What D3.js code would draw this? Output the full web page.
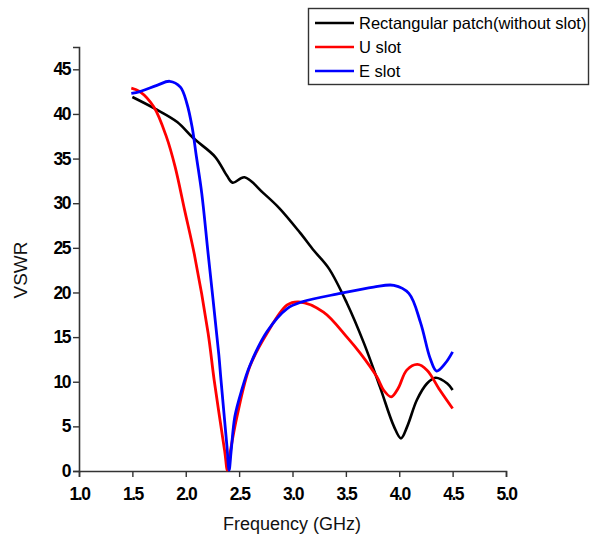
<!DOCTYPE html>
<html>
<head>
<meta charset="utf-8">
<script src="https://cdn.jsdelivr.net/npm/d3@7"></script>
<style>
  body { margin: 0; background: #fff; }
  svg { display: block; }
</style>
</head>
<body>
<div id="chart"></div>
<script>
// values
var seriesNames = ["Rectangular patch(without slot)", "U slot", "E slot"];
var seriesColours = ["#000000", "#ff0000", "#0000ff"];

var rectFreq = [1.5, 1.71, 1.92, 2.07, 2.275, 2.385, 2.44, 2.55, 2.73, 2.88, 3.07, 3.2, 3.34, 3.51, 3.67, 3.82, 3.95, 4.016, 4.075, 4.165, 4.26, 4.34, 4.45, 4.5];
var rectVswr = [41.9, 40.6, 39.1, 37.3, 35.2, 33.1, 32.3, 32.9, 31.1, 29.4, 26.7, 24.7, 22.7, 18.8, 14.3, 9.4, 5.0, 3.66, 5.0, 7.95, 9.8, 10.45, 9.8, 9.07];

var uFreq = [1.49, 1.57, 1.70, 1.82, 1.9, 1.99, 2.08, 2.21, 2.266, 2.365, 2.39, 2.415, 2.48, 2.60, 2.76, 2.95, 3.06, 3.29, 3.51, 3.634, 3.79, 3.853, 3.925, 3.99, 4.07, 4.17, 4.26, 4.38, 4.5];
var uVswr = [42.9, 42.5, 40.8, 37.4, 34.1, 29.2, 24.3, 15.4, 10.2, 2.2, 0.1, 2.0, 6.1, 11.7, 15.4, 18.6, 18.95, 17.8, 15.0, 13.2, 10.55, 9.07, 8.3, 9.26, 11.3, 11.94, 11.3, 9.07, 7.0];

var eFreq = [1.49, 1.57, 1.73, 1.85, 1.95, 2.01, 2.06, 2.10, 2.15, 2.21, 2.31, 2.33, 2.385, 2.406, 2.425, 2.46, 2.525, 2.60, 2.76, 2.95, 3.09, 3.45, 3.76, 3.95, 4.09, 4.20, 4.29, 4.35, 4.43, 4.5];
var eVswr = [42.3, 42.5, 43.2, 43.66, 43.0, 41.2, 38.5, 35.2, 31.1, 24.3, 13.0, 10.2, 2.9, 0.1, 2.2, 6.1, 9.1, 11.8, 15.6, 18.2, 18.95, 19.9, 20.6, 20.8, 19.9, 16.6, 12.6, 11.2, 12.05, 13.35];

var xTicks = [1.0, 1.5, 2.0, 2.5, 3.0, 3.5, 4.0, 4.5, 5.0];
var yTicks = [0, 5, 10, 15, 20, 25, 30, 35, 40, 45];

var width = 590, height = 543;
var margin = {top: 47, right: 84, bottom: 72, left: 79};
var widthG = width - margin.left - margin.right;
var heightG = height - margin.top - margin.bottom;

var svg = d3.select("#chart").append("svg")
  .attr("width", width)
  .attr("height", height);

var g = svg.append("g")
  .attr("transform", "translate(" + margin.left + "," + margin.top + ")");

var x = d3.scaleLinear().domain([1.0, 5.0]).range([0, 427]);
var y = d3.scaleLinear().domain([0, 47.5]).range([heightG, 0]);

//axes
var xAxis = d3.axisBottom(x).tickValues(xTicks).tickFormat(d3.format(".1f")).tickSize(6).tickPadding(6);
var yAxis = d3.axisLeft(y).tickValues(yTicks).tickFormat(d3.format("d")).tickSize(6).tickPadding(3);

var gx = g.append("g")
  .attr("transform", "translate(0," + heightG + ")")
  .call(xAxis);
var gy = g.append("g").call(yAxis);

[gx, gy].forEach(function(ax) {
  ax.select(".domain").attr("stroke", "#333").attr("stroke-width", 1.6);
  ax.selectAll(".tick line").attr("stroke", "#333").attr("stroke-width", 1.4);
  ax.selectAll(".tick text")
    .style("font-family", "'Liberation Sans', Arial, sans-serif")
    .style("font-size", "17.5px")
    .style("font-weight", "bold")
    .style("letter-spacing", "-1.5px")
    .attr("fill", "#000");
});
gx.selectAll(".tick text").attr("dy", "0.95em");

//lines
var line = d3.line()
  .x(function(d) { return x(d[0]); })
  .y(function(d) { return y(Math.max(0, d[1])); })
  .curve(d3.curveCatmullRom.alpha(0.5));

var series = [
  d3.zip(rectFreq, rectVswr),
  d3.zip(uFreq, uVswr),
  d3.zip(eFreq, eVswr)
];

// black first, then red, then blue on top
series.forEach(function(s, i) {
  g.append("path")
    .datum(s)
    .attr("fill", "none")
    .attr("stroke", seriesColours[i])
    .attr("stroke-width", i === 0 ? 2.6 : 2.8)
    .attr("stroke-linejoin", "round")
    .attr("d", line);
});

//axis titles
svg.append("text")
  .attr("x", 292)
  .attr("y", 530)
  .attr("text-anchor", "middle")
  .style("font-family", "'Liberation Sans', Arial, sans-serif")
  .style("font-size", "18px")
  .attr("fill", "#111")
  .text("Frequency (GHz)");

svg.append("text")
  .attr("transform", "translate(27,270) rotate(-90)")
  .attr("text-anchor", "middle")
  .style("font-family", "'Liberation Sans', Arial, sans-serif")
  .style("font-size", "19px")
  .attr("fill", "#111")
  .text("VSWR");

//legend
var legend = svg.append("g");
legend.append("rect")
  .attr("x", 308.5)
  .attr("y", 8.5)
  .attr("width", 280)
  .attr("height", 76)
  .attr("fill", "#fff")
  .attr("stroke", "#333")
  .attr("stroke-width", 1.4);

seriesNames.forEach(function(name, i) {
  var ly = 23 + i * 24;
  legend.append("line")
    .attr("x1", 315).attr("x2", 354)
    .attr("y1", ly).attr("y2", ly)
    .attr("stroke", seriesColours[i])
    .attr("stroke-width", 2.6);
  legend.append("text")
    .attr("x", 359)
    .attr("y", ly + 6)
    .style("font-family", "'Liberation Sans', Arial, sans-serif")
    .style("font-size", "16.5px")
    .attr("fill", "#000")
    .text(name);
});
</script>
</body>
</html>
